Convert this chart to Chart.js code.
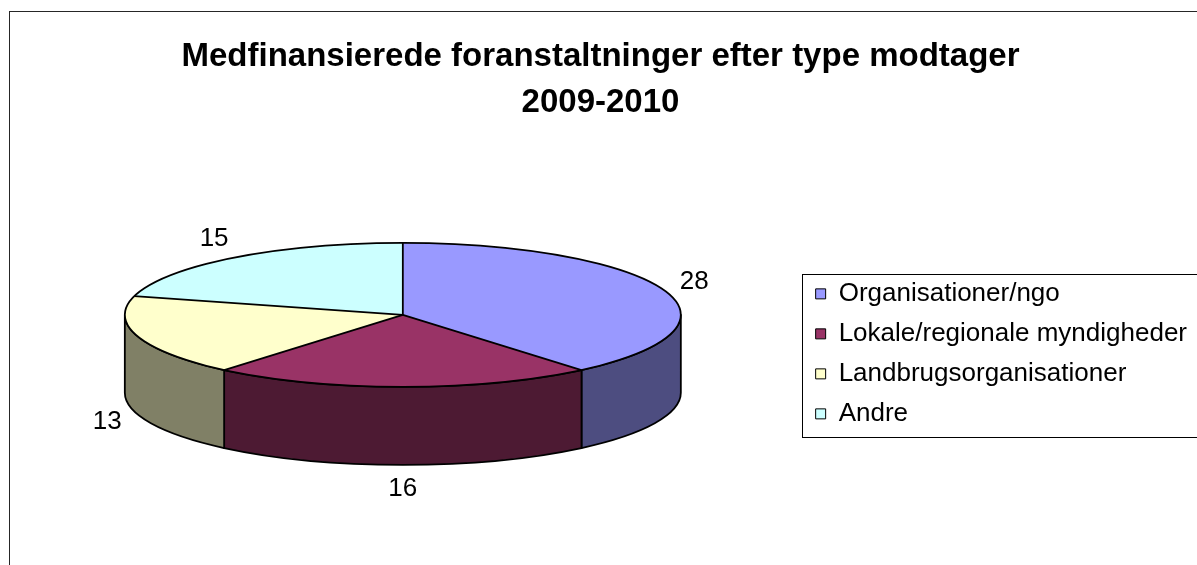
<!DOCTYPE html>
<html>
<head>
<meta charset="utf-8">
<script src="https://cdn.jsdelivr.net/npm/chart.js@4.4.1/dist/chart.umd.min.js"></script>
<style>
html, body { margin: 0; padding: 0; background: #ffffff; }
#wrap { width: 1197px; height: 565px; position: relative; }
</style>
</head>
<body>
<div id="wrap"><canvas id="c"></canvas></div>
<script>
// ---- data ----
const titleLines = ['Medfinansierede foranstaltninger efter type modtager', '2009-2010'];
const categories = ['Organisationer/ngo', 'Lokale/regionale myndigheder', 'Landbrugsorganisationer', 'Andre'];
const values = [28, 16, 13, 15];
const topColors = ['#9999FF', '#993366', '#FFFFCC', '#CCFFFF'];

// ---- styling ----
const FONT = "'Liberation Sans', Arial, sans-serif";
const PIE = { radius: 278, tilt: 72 / 278, depth: 78, labelGapX: 32, labelGapY: 24, labelSize: 26, edge: 1.8 };

function darken(hex) {
  const n = parseInt(hex.slice(1), 16);
  const r = Math.round(((n >> 16) & 255) * 0.5);
  const g = Math.round(((n >> 8) & 255) * 0.5);
  const b = Math.round((n & 255) * 0.5);
  return 'rgb(' + r + ',' + g + ',' + b + ')';
}

function geom(chart) {
  const arcs = chart.getDatasetMeta(0).data;
  const a0 = arcs[0];
  const rx = a0.outerRadius;
  return { arcs, ox: a0.x, oy: a0.y, cx: a0.x, cy: a0.y - PIE.depth / 2, rx, ry: rx * PIE.tilt };
}

const frame = {
  id: 'frame',
  beforeDraw(chart) {
    const ctx = chart.ctx;
    ctx.save();
    ctx.strokeStyle = '#262626';
    ctx.lineWidth = 1;
    ctx.strokeRect(9.5, 11.5, chart.width + 50, chart.height + 50);
    ctx.restore();
  },
  afterDraw(chart) {
    const lg = chart.legend;
    if (!lg || !lg.legendHitBoxes || !lg.legendHitBoxes.length) return;
    const hb = lg.legendHitBoxes;
    const top = hb[0].top - 7;
    const bottom = hb[hb.length - 1].top + hb[hb.length - 1].height + 10;
    const ctx = chart.ctx;
    ctx.save();
    ctx.strokeStyle = '#000';
    ctx.lineWidth = 1;
    ctx.strokeRect(Math.round(lg.left) + 0.5, Math.round(top) + 0.5, chart.width, Math.round(bottom - top));
    ctx.restore();
  }
};

const pie3d = {
  id: 'pie3d',
  beforeDatasetsDraw(chart) {
    const g = geom(chart);
    const ctx = chart.ctx;
    // side walls of the visible (front) half
    g.arcs.forEach((arc, i) => {
      const s = Math.max(arc.startAngle, 0);
      const e = Math.min(arc.endAngle, Math.PI);
      if (s >= e) return;
      ctx.save();
      ctx.beginPath();
      ctx.ellipse(g.cx, g.cy, g.rx, g.ry, 0, s, e, false);
      ctx.lineTo(g.cx + g.rx * Math.cos(e), g.cy + PIE.depth + g.ry * Math.sin(e));
      ctx.ellipse(g.cx, g.cy + PIE.depth, g.rx, g.ry, 0, e, s, true);
      ctx.closePath();
      ctx.fillStyle = darken(topColors[i]);
      ctx.fill();
      ctx.strokeStyle = '#000';
      ctx.lineWidth = PIE.edge;
      ctx.lineJoin = 'round';
      ctx.stroke();
      ctx.restore();
    });
    // squash the library's own slices into the tilted top face
    ctx.save();
    ctx.translate(g.cx, g.cy);
    ctx.scale(1, PIE.tilt);
    ctx.translate(-g.ox, -g.oy);
  },
  afterDatasetsDraw(chart) {
    const ctx = chart.ctx;
    ctx.restore();
    const g = geom(chart);
    ctx.save();
    ctx.strokeStyle = '#000';
    ctx.lineWidth = PIE.edge;
    ctx.lineJoin = 'round';
    // top outline
    ctx.beginPath();
    ctx.ellipse(g.cx, g.cy, g.rx, g.ry, 0, 0, Math.PI * 2);
    ctx.stroke();
    // radial slice edges
    g.arcs.forEach(arc => {
      ctx.beginPath();
      ctx.moveTo(g.cx, g.cy);
      ctx.lineTo(g.cx + g.rx * Math.cos(arc.startAngle), g.cy + g.ry * Math.sin(arc.startAngle));
      ctx.stroke();
    });
    // value labels
    ctx.fillStyle = '#000';
    ctx.font = PIE.labelSize + 'px ' + FONT;
    ctx.textAlign = 'center';
    ctx.textBaseline = 'middle';
    const data = chart.data.datasets[0].data;
    g.arcs.forEach((arc, i) => {
      const mid = (arc.startAngle + arc.endAngle) / 2;
      const c = Math.cos(mid), s = Math.sin(mid);
      const x = g.cx + (g.rx + PIE.labelGapX) * c;
      const y = g.cy + (g.ry + PIE.labelGapY) * s + (s > 0 ? PIE.depth : 0);
      ctx.fillText(String(data[i]), x, y);
    });
    ctx.restore();
  }
};

new Chart(document.getElementById('c'), {
  type: 'pie',
  data: {
    labels: categories,
    datasets: [{
      data: values,
      backgroundColor: topColors,
      borderWidth: 0,
      hoverOffset: 0,
      radius: PIE.radius,
      clip: false
    }]
  },
  options: {
    responsive: true,
    maintainAspectRatio: false,
    animation: false,
    devicePixelRatio: 1,
    events: [],
    layout: { padding: { left: 4, right: 0, top: 0, bottom: 0 } },
    plugins: {
      title: {
        display: true,
        text: titleLines,
        color: '#000',
        font: { family: FONT, size: 33, weight: 'bold', lineHeight: 1.42 },
        padding: { top: 33, bottom: 16 }
      },
      legend: {
        display: true,
        position: 'right',
        align: 'center',
        fullSize: false,
        labels: {
          color: '#000',
          font: { family: FONT, size: 26 },
          boxWidth: 10,
          boxHeight: 10,
          padding: 14,
          generateLabels(chart) {
            const items = Chart.overrides.pie.plugins.legend.labels.generateLabels(chart);
            items.forEach(it => { it.lineWidth = 1; it.strokeStyle = '#000'; });
            return items;
          }
        }
      },
      tooltip: { enabled: false }
    }
  },
  plugins: [frame, pie3d]
});
</script>
</body>
</html>
